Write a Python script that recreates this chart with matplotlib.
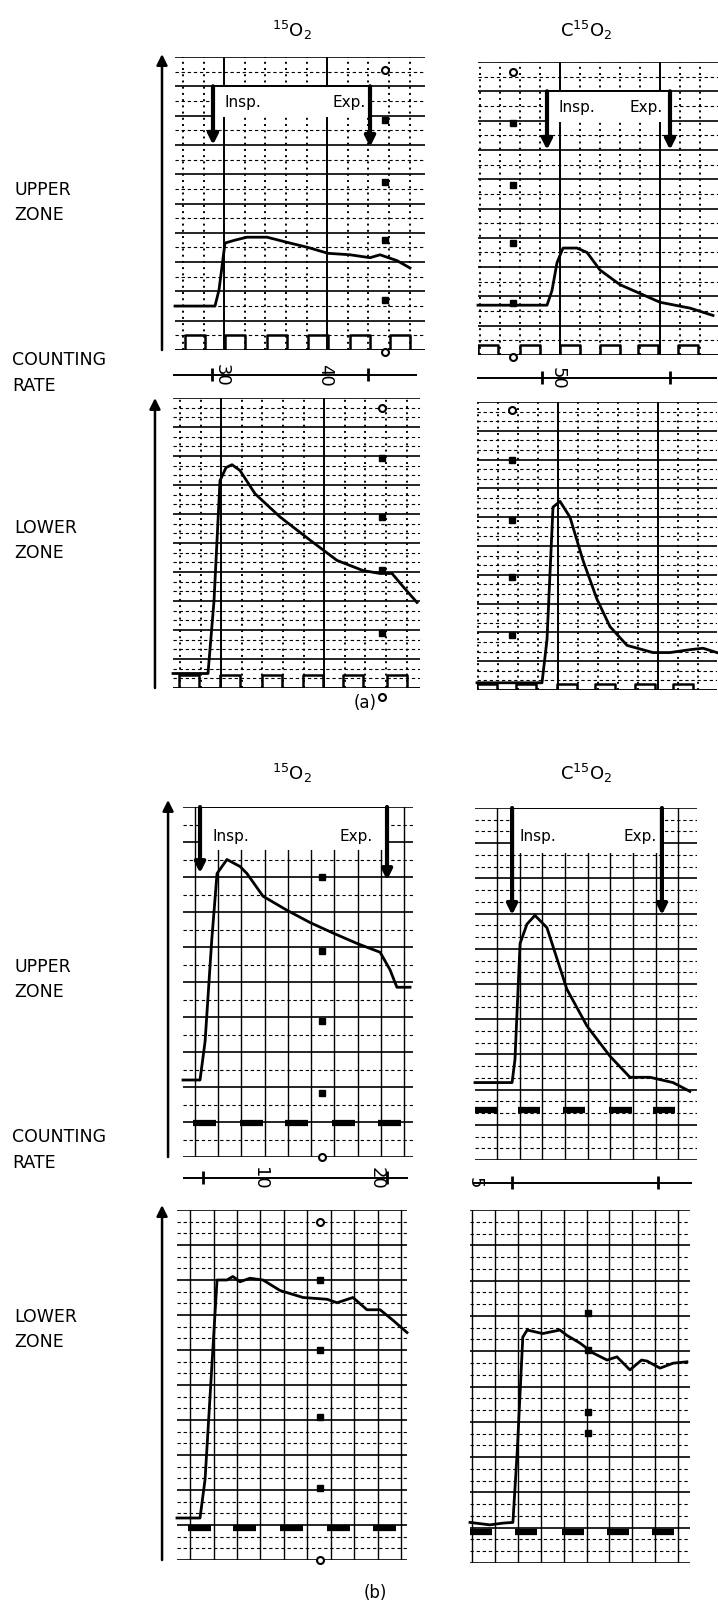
import numpy as np
import matplotlib.pyplot as plt
from matplotlib.patches import Rectangle

plt.rcParams["font.family"] = ["DejaVu Sans"]
plt.rcParams["mathtext.default"] = "regular"

W, H = 718, 1604  # figure size in pixels at dpi 100

# Values are in chart-paper units: x = columns from the strip's left edge,
# y = rows above the strip's bottom line (10 rows per strip).

# ---- (a) 15O2, upper / lower zone
a_o2_up_x = [0, 2.0, 2.2, 2.5, 3.0, 3.6, 4.6, 5.75, 6.65, 7.65, 8.75, 9.75, 10.25, 11.1, 11.75]
a_o2_up_y = [1.5, 1.5, 2.05, 3.65, 3.75, 3.85, 3.85, 3.65, 3.5, 3.3, 3.25, 3.15, 3.25, 3.05, 2.8]
a_o2_low_x = [0, 1.75, 2.05, 2.35, 2.65, 2.95, 3.35, 4.1, 5.35, 6.85, 8.2, 9.5, 10.35, 10.95, 11.5, 12.2]
a_o2_low_y = [0.5, 0.5, 3.0, 7.15, 7.6, 7.7, 7.5, 6.7, 5.9, 5.1, 4.4, 4.05, 3.95, 3.95, 3.5, 2.95]

# ---- (a) C15O2
a_co2_up_x = [0, 3.45, 3.7, 3.95, 4.25, 4.95, 5.45, 6.1, 7.1, 8.1, 9.1, 10.6, 11.75]
a_co2_up_y = [1.7, 1.7, 2.2, 3.15, 3.65, 3.65, 3.5, 2.9, 2.4, 2.1, 1.8, 1.6, 1.35]
a_co2_low_x = [0, 3.25, 3.5, 3.8, 4.15, 4.65, 5.3, 6.0, 6.65, 7.5, 8.8, 9.65, 10.65, 11.3, 12.0]
a_co2_low_y = [0.25, 0.25, 1.75, 6.35, 6.55, 6.0, 4.5, 3.15, 2.2, 1.55, 1.3, 1.3, 1.4, 1.45, 1.3]

# ---- (b) 15O2
b_o2_up_x = [0, 0.74, 0.96, 1.25, 1.48, 1.91, 2.48, 2.78, 3.48, 4.52, 5.52, 6.52, 7.57, 8.57, 9.0, 9.3, 9.87]
b_o2_up_y = [2.2, 2.2, 3.3, 6.2, 8.1, 8.5, 8.3, 8.1, 7.45, 7.05, 6.7, 6.4, 6.1, 5.85, 5.35, 4.85, 4.85]
b_o2_low_x = [0, 1.0, 1.22, 1.43, 1.74, 2.17, 2.43, 2.74, 3.17, 3.74, 4.48, 5.48, 6.52, 6.96, 7.65, 8.26, 8.83, 9.39, 10.0]
b_o2_low_y = [1.2, 1.2, 2.3, 4.6, 8.0, 8.0, 8.1, 7.95, 8.05, 8.0, 7.7, 7.5, 7.45, 7.35, 7.5, 7.15, 7.15, 6.85, 6.5]

# ---- (b) C15O2
b_co2_up_x = [0, 1.67, 1.8, 2.03, 2.34, 2.7, 3.24, 4.14, 5.05, 6.08, 6.98, 7.88, 8.92, 9.68]
b_co2_up_y = [2.2, 2.2, 2.85, 6.15, 6.7, 6.95, 6.6, 4.85, 3.8, 2.95, 2.35, 2.35, 2.2, 1.95]
b_co2_low_x = [0, 0.9, 1.5, 1.95, 2.15, 2.4, 2.6, 3.3, 4.09, 4.4, 5.0, 5.59, 6.23, 6.68, 7.27, 7.8, 8.05, 8.64, 9.23, 9.86]
b_co2_low_y = [1.15, 1.08, 1.13, 1.15, 3.2, 6.4, 6.6, 6.5, 6.6, 6.45, 6.23, 5.95, 5.75, 5.84, 5.47, 5.75, 5.72, 5.52, 5.66, 5.7]

# timing pulses: start of each pulse and its level
a_o2_up_pulses, a_o2_up_level = [0.5, 2.5, 4.6, 6.65, 8.75, 10.75], 0.5
a_o2_low_pulses, a_o2_low_level = [0.3, 2.35, 4.45, 6.5, 8.5, 10.7], 0.45
a_co2_up_pulses, a_co2_up_level = [0.0, 2.1, 4.1, 6.1, 8.0, 10.0], 0.34
a_co2_low_pulses, a_co2_low_level = [0.0, 1.95, 4.0, 5.9, 7.9, 9.8], 0.2
b_o2_up_pulses, b_o2_up_level = [0.45, 2.48, 4.45, 6.48, 8.48], 0.97
b_o2_low_pulses, b_o2_low_level = [0.48, 2.45, 4.48, 6.52, 8.52], 0.91
b_co2_up_pulses, b_co2_up_level = [0.0, 1.95, 3.96, 6.05, 8.02], 1.42
b_co2_low_pulses, b_co2_low_level = [0.0, 2.05, 4.18, 6.23, 8.27], 0.88

# inspiration / expiration arrows: x of each arrow and y of its tip
a_o2_breath = (1.9, 9.75, 7.0, 6.93)
a_co2_breath = (3.45, 9.6, 7.0, 7.0)
b_o2_breath = (0.74, 8.87, 8.11, 7.91)
b_co2_breath = (1.67, 8.42, 6.96, 6.96)

# pen marks along one column of the paper
a_o2_up_marks = (10.5, [9.56, 7.85, 5.73, 3.75, 1.7, -0.07])
a_o2_low_marks = (10.45, [9.66, 7.93, 5.9, 4.07, 1.9, -0.3])
a_co2_up_marks = (1.75, [9.66, 7.92, 5.8, 3.82, 1.77, -0.07])
a_co2_low_marks = (1.75, [9.72, 7.99, 5.9, 3.92, 1.91])
b_o2_up_marks = (6.05, [8.0, 5.9, 3.9, 1.83, 0.0])
b_o2_low_marks = (6.2, [9.66, 8.0, 6.0, 4.09, 2.06, 0.0])
b_co2_low_marks = (5.36, [7.08, 6.03, 4.28, 3.68])

# time scale between the zones (seconds marks)
a_left_ticks, a_left_lab_x, a_left_labels = [1.85, 9.65], [2.35, 7.5], ["30", "40"]
a_right_ticks, a_right_lab_x, a_right_labels = [3.2, 9.6], [4.0], ["50"]
b_left_ticks, b_left_lab_x, b_left_labels = [0.87, 8.87], [3.35, 8.43], ["10", "20"]
b_right_ticks, b_right_lab_x, b_right_labels = [1.67, 8.24], [0.0], ["5"]


def px_axes(fig, left, top, right, bottom):
    """Axes placed by its pixel box."""
    return fig.add_axes([left / W, 1 - bottom / H, (right - left) / W, (bottom - top) / H])


def paper(fig, box, xunit, x0, dx, heavy, minor, dotted):
    """Draw one strip of recorder paper and return its axes."""
    left, top, right, bottom = box
    ax = px_axes(fig, *box)
    xmax = (right - left) / xunit
    ax.set_xlim(0, xmax)
    ax.set_ylim(0, 10)
    ax.axis("off")
    fine = [y for y in np.arange(minor, 10, minor) if abs(y - round(y)) > 0.05]
    ax.hlines(fine, 0, xmax, color="k", lw=0.8, linestyles=(0, (3, 2.5)), zorder=1)
    ax.hlines(np.arange(11), 0, xmax, color="k", lw=1.2, zorder=1)
    for k in range(int(np.ceil(-x0 / dx)), int((xmax - x0) / dx) + 1):
        x = x0 + k * dx
        if k in heavy:
            ax.axvline(x, color="k", lw=1.4, zorder=1)
        elif dotted:
            ax.axvline(x, color="k", lw=1.4, ls=(0, (1, 2.2)), zorder=1)
        else:
            ax.axvline(x, color="k", lw=1.0, zorder=1)
    return ax


def trace(ax, x, y):
    ax.plot(x, y, color="k", lw=2.0, zorder=6, clip_on=False, solid_joinstyle="round")


def pulses(ax, starts, level, bars):
    xmax = ax.get_xlim()[1]
    if bars:
        ax.hlines([level] * len(starts), starts, np.add(starts, 1.0), color="k", lw=4.5, zorder=5)
        return
    xs, ys = [0], [0]
    for s in starts:
        xs += [s, s, s + 1.0, s + 1.0]
        ys += [0, level, level, 0]
    xs.append(xmax)
    ys.append(0)
    ax.plot(xs, ys, color="k", lw=1.8, zorder=5)


def breath(ax, spec, box_lo, box_hi, text_y, pad_i, pad_e):
    xi, xe, tip_i, tip_e = spec
    ax.add_patch(Rectangle((xi, box_lo), xe - xi, box_hi - box_lo, fc="white", ec="none", zorder=3))
    ax.hlines(box_hi, xi, xe, color="k", lw=1.4, zorder=4)
    for x, tip in ((xi, tip_i), (xe, tip_e)):
        ax.annotate("", xy=(x, tip), xytext=(x, box_hi), zorder=7,
                    arrowprops=dict(arrowstyle="-|>", color="k", lw=3.0,
                                    mutation_scale=15, shrinkA=0, shrinkB=0))
    ax.text(xi + pad_i, text_y, "Insp.", ha="left", va="center", fontsize=11, zorder=8)
    ax.text(xe - pad_e, text_y, "Exp.", ha="right", va="center", fontsize=11, zorder=8)


def marks(ax, spec):
    x, ys = spec
    for y in ys:
        if y > 9 or y <= 0:
            ax.plot(x, y, "o", ms=5, mfc="white", mec="k", mew=1.5, zorder=6, clip_on=False)
        else:
            ax.plot(x, y, "s", ms=5, color="k", zorder=6, clip_on=False)


def up_arrow(ax, xfrac, top):
    ax.annotate("", xy=(xfrac, top), xytext=(xfrac, 0), xycoords="axes fraction",
                arrowprops=dict(arrowstyle="-|>", color="k", lw=1.8,
                                mutation_scale=16, shrinkA=0, shrinkB=0))


def time_scale(fig, y, left, right, strip_left, xunit, ticks, lab_x, labels):
    ax = px_axes(fig, left, y - 15, right, y + 15)
    ax.set_xlim((left - strip_left) / xunit, (right - strip_left) / xunit)
    ax.set_ylim(-1, 1)
    ax.axis("off")
    ax.axhline(0, color="k", lw=1.4)
    ax.vlines(ticks, -0.4, 0.5, color="k", lw=2.0)
    for x, s in zip(lab_x, labels):
        ax.text(x, 0, s, rotation=-90, ha="center", va="center", fontsize=13)


def label(fig, x, y, s, **kw):
    fig.text(x / W, 1 - y / H, s, va="center", **kw)


def make_figure():
    fig = plt.figure(figsize=(W / 100, H / 100), dpi=100)

    # (a) 15O2
    ax = paper(fig, (175, 57, 425, 350), 20, 0.4, 1.03, {2, 7}, 0.5, True)
    breath(ax, a_o2_breath, 7.95, 9.0, 8.45, 0.6, 0.2)
    pulses(ax, a_o2_up_pulses, a_o2_up_level, False)
    marks(ax, a_o2_up_marks)
    trace(ax, a_o2_up_x, a_o2_up_y)
    up_arrow(ax, -0.052, 1.01)

    ax = paper(fig, (173, 398, 420, 688), 20, 0.35, 1.03, {2, 7}, 1 / 3, True)
    pulses(ax, a_o2_low_pulses, a_o2_low_level, False)
    marks(ax, a_o2_low_marks)
    trace(ax, a_o2_low_x, a_o2_low_y)
    up_arrow(ax, -0.073, 1.0)

    # (a) C15O2
    ax = paper(fig, (478, 62, 718, 355), 20, 0.1, 1.0, {4, 9}, 0.5, True)
    breath(ax, a_co2_breath, 7.95, 9.0, 8.45, 0.55, 0.35)
    pulses(ax, a_co2_up_pulses, a_co2_up_level, False)
    marks(ax, a_co2_up_marks)
    trace(ax, a_co2_up_x, a_co2_up_y)

    ax = paper(fig, (477, 402, 717, 690), 20, 0.05, 1.0, {4, 9}, 1 / 3, True)
    pulses(ax, a_co2_low_pulses, a_co2_low_level, False)
    marks(ax, a_co2_low_marks)
    trace(ax, a_co2_low_x, a_co2_low_y)

    time_scale(fig, 375, 173, 417, 175, 20, a_left_ticks, a_left_lab_x, a_left_labels)
    time_scale(fig, 378, 477, 717, 478, 20, a_right_ticks, a_right_lab_x, a_right_labels)

    # (b) 15O2
    ax = paper(fig, (183, 807, 413, 1157), 23, 0.52, 1.01, set(), 0.5, False)
    breath(ax, b_o2_breath, 8.77, 10.0, 9.15, 0.55, 0.6)
    pulses(ax, b_o2_up_pulses, b_o2_up_level, True)
    marks(ax, b_o2_up_marks)
    trace(ax, b_o2_up_x, b_o2_up_y)
    up_arrow(ax, -0.065, 1.02)

    ax = paper(fig, (177, 1210, 407, 1560), 23, 0.57, 1.02, set(), 1 / 3, False)
    pulses(ax, b_o2_low_pulses, b_o2_low_level, True)
    marks(ax, b_o2_low_marks)
    trace(ax, b_o2_low_x, b_o2_low_y)
    up_arrow(ax, -0.065, 1.014)

    # (b) C15O2
    ax = paper(fig, (475, 808, 697, 1160), 22.2, 1.0, 1.02, set(), 1 / 3, False)
    breath(ax, b_co2_breath, 8.72, 10.0, 9.18, 0.35, 0.25)
    pulses(ax, b_co2_up_pulses, b_co2_up_level, True)
    trace(ax, b_co2_up_x, b_co2_up_y)

    ax = paper(fig, (470, 1210, 690, 1563), 22, 0.1, 1.04, set(), 1 / 3, False)
    pulses(ax, b_co2_low_pulses, b_co2_low_level, True)
    marks(ax, b_co2_low_marks)
    trace(ax, b_co2_low_x, b_co2_low_y)

    time_scale(fig, 1178, 183, 408, 183, 23, b_left_ticks, b_left_lab_x, b_left_labels)
    time_scale(fig, 1183, 473, 692, 475, 22.2, b_right_ticks, b_right_lab_x, b_right_labels)

    # titles and side labels
    for y in (30, 773):
        label(fig, 292, y, "$^{15}$O$_2$", ha="center", fontsize=13)
        label(fig, 586, y, "C$^{15}$O$_2$", ha="center", fontsize=13)
    for base in (0, 777):
        label(fig, 14, 190 + base, "UPPER", fontsize=12.5)
        label(fig, 14, 215 + base, "ZONE", fontsize=12.5)
        label(fig, 12, 360 + base, "COUNTING", fontsize=12.5)
        label(fig, 12, 386 + base, "RATE", fontsize=12.5)
        label(fig, 14, 528 + base + (12 if base else 0), "LOWER", fontsize=12.5)
        label(fig, 14, 553 + base + (12 if base else 0), "ZONE", fontsize=12.5)
    label(fig, 365, 703, "(a)", ha="center", fontsize=12)
    label(fig, 375, 1593, "(b)", ha="center", fontsize=12)
    return fig


if __name__ == "__main__":
    fig = make_figure()
    fig.savefig("out.png", dpi=100, facecolor="white")
